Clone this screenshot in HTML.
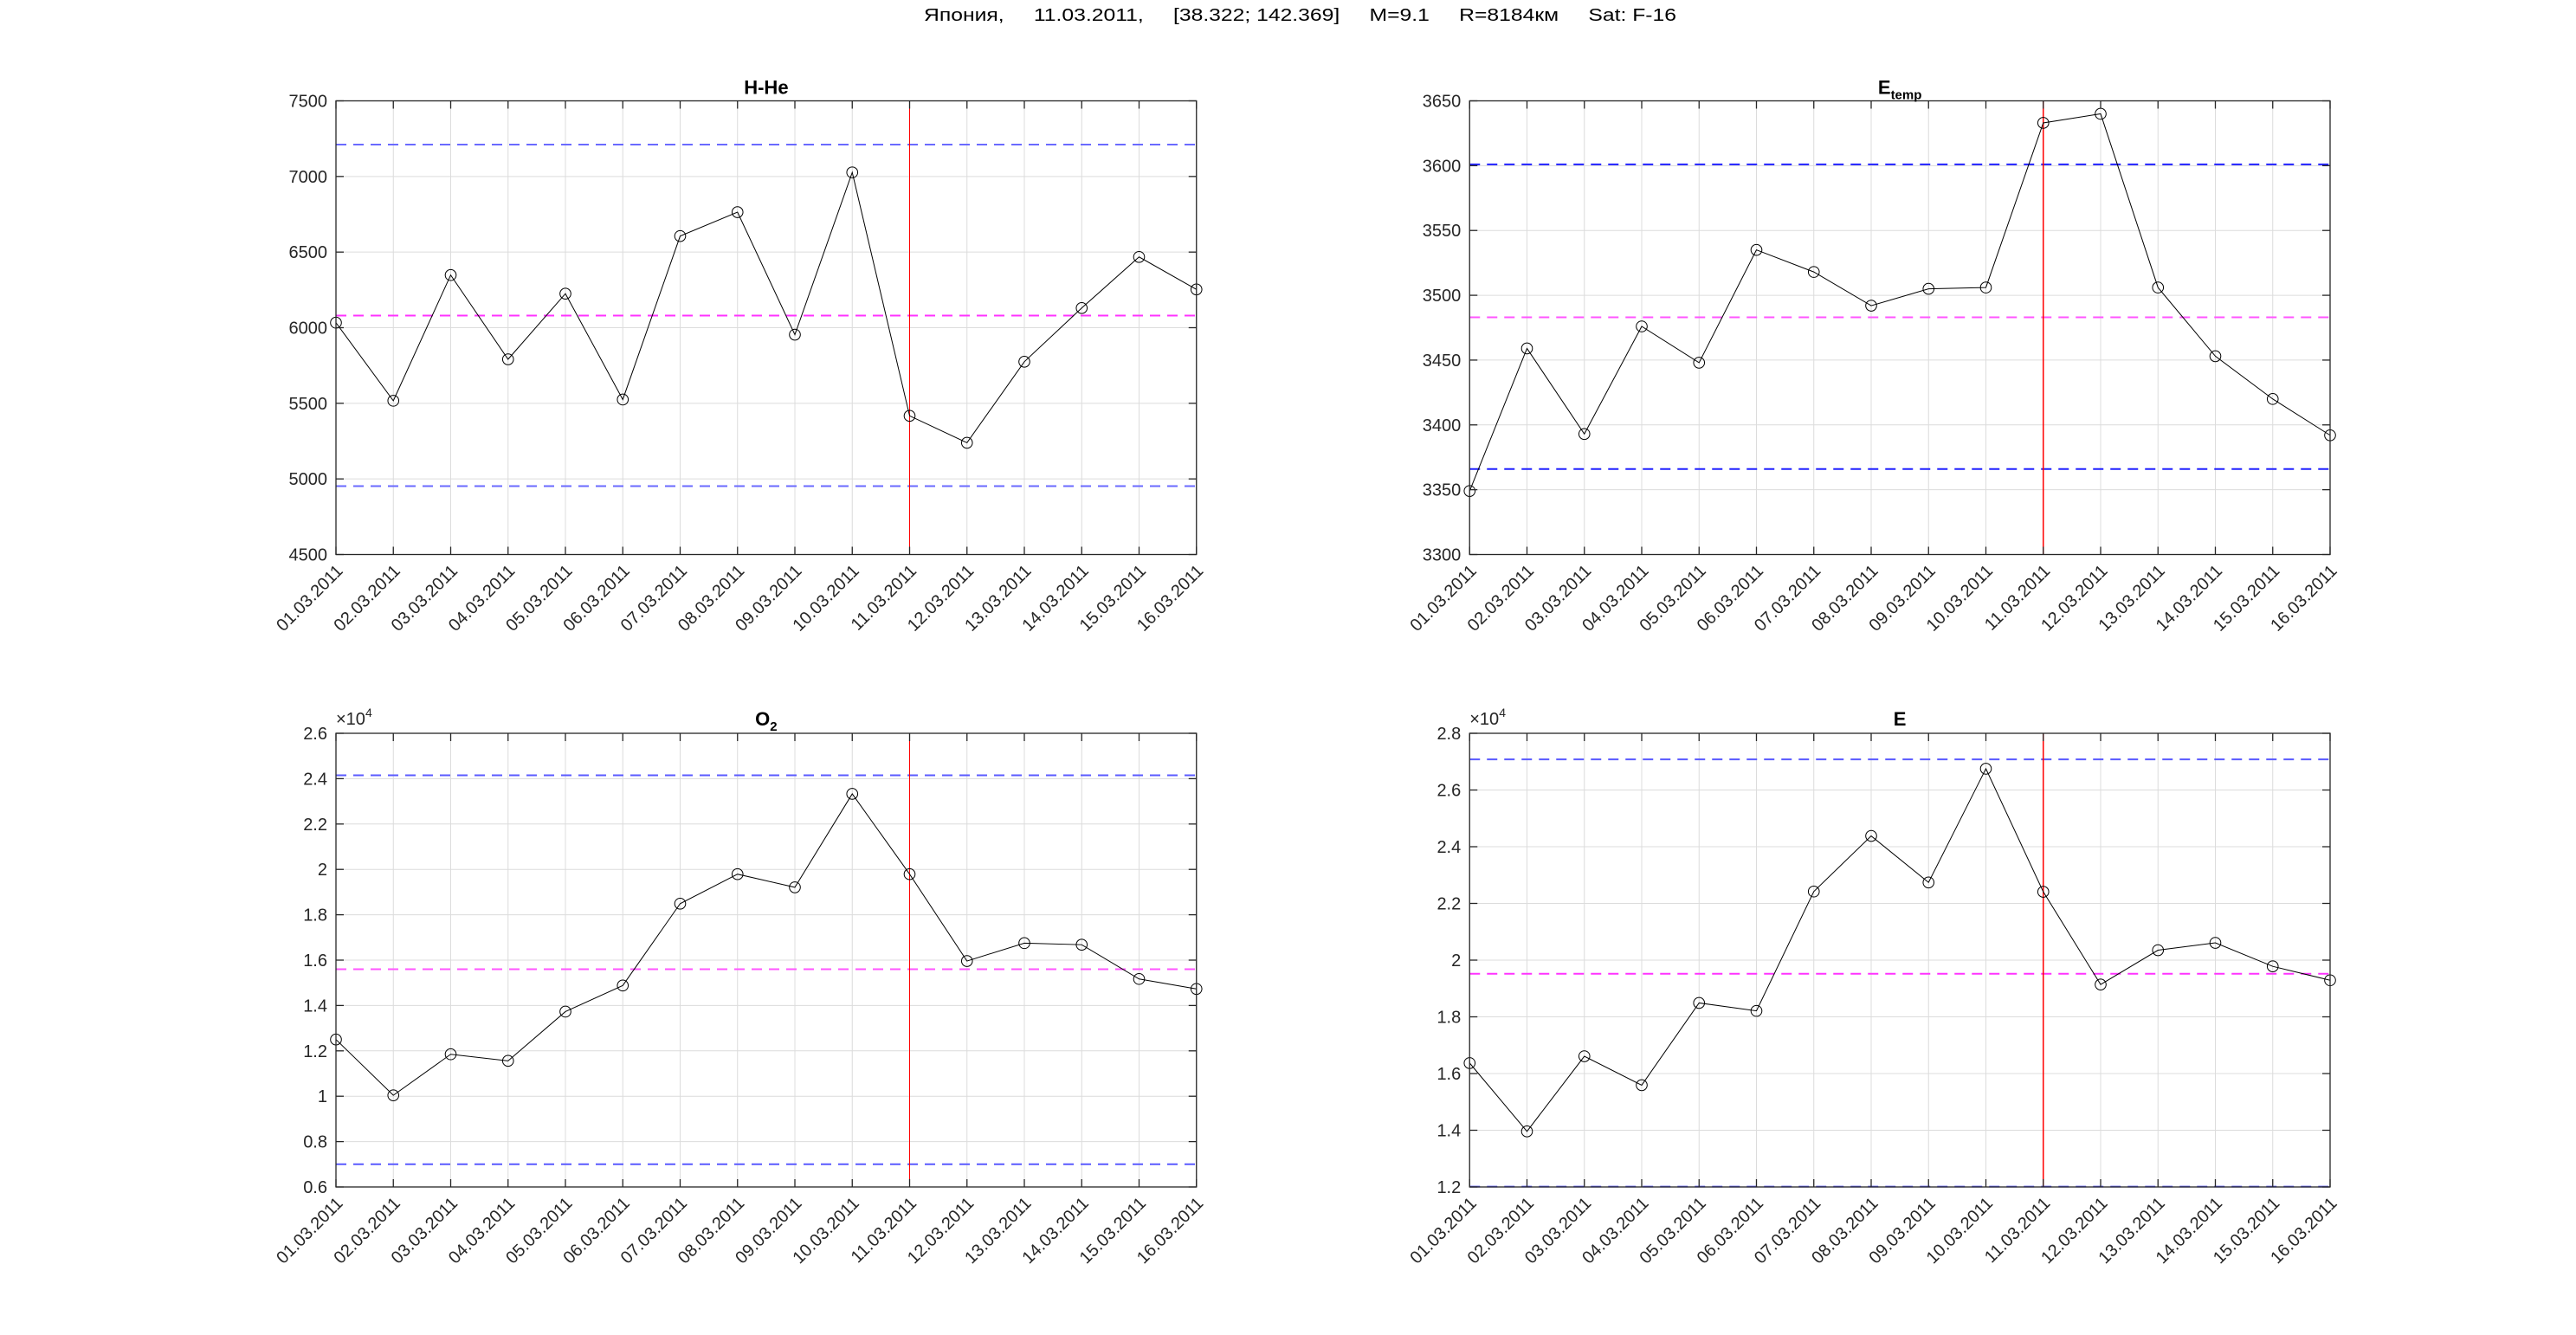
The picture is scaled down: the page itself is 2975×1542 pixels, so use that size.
<!DOCTYPE html>
<html><head><meta charset="utf-8">
<style>
html,body{margin:0;padding:0;background:#fff;}
svg{display:block;}
text{font-family:"Liberation Sans",Arial,sans-serif;fill:#262626;}
.t{font-size:20px;}
.tt{font-size:22px;font-weight:bold;fill:#000;}
</style></head>
<body>
<svg id="s" width="2975" height="1542" xmlns="http://www.w3.org/2000/svg">
<rect width="2975" height="1542" fill="#fff"/>
<text x="1067" y="24" style="font-size:20px;fill:#000;white-space:pre" xml:space="preserve" textLength="869" lengthAdjust="spacingAndGlyphs">Япония,     11.03.2011,     [38.322; 142.369]     M=9.1     R=8184км     Sat: F-16</text>

<g id="p1" transform="translate(388,116.5)">
<g class="geo"></g>
<text class="tt" x="496.9" y="-8" text-anchor="middle">H-He</text>
<g class="t" text-anchor="end">
<text x="-10" y="7">7500</text><text x="-10" y="94.3">7000</text><text x="-10" y="181.7">6500</text><text x="-10" y="269">6000</text><text x="-10" y="356.3">5500</text><text x="-10" y="443.7">5000</text><text x="-10" y="531">4500</text>
</g>
<g class="t dates" text-anchor="end"></g>
</g>

<g id="p2" transform="translate(1697.25,116.5)">
<g class="geo"></g>
<text class="tt" x="496.9" y="-8" text-anchor="middle">E<tspan dy="6" style="font-size:15px">temp</tspan></text>
<g class="t" text-anchor="end">
<text x="-10" y="7">3650</text><text x="-10" y="81.9">3600</text><text x="-10" y="156.7">3550</text><text x="-10" y="231.6">3500</text><text x="-10" y="306.4">3450</text><text x="-10" y="381.3">3400</text><text x="-10" y="456.1">3350</text><text x="-10" y="531">3300</text>
</g>
<g class="t dates" text-anchor="end"></g>
</g>

<g id="p3" transform="translate(388,847)">
<g class="geo"></g>
<text class="tt" x="496.9" y="-9" text-anchor="middle">O<tspan dy="6" style="font-size:15px">2</tspan></text>
<text x="0" y="-10" style="font-size:20px">×10<tspan dy="-9" style="font-size:14px">4</tspan></text>
<g class="t" text-anchor="end">
<text x="-10" y="7">2.6</text><text x="-10" y="59.4">2.4</text><text x="-10" y="111.8">2.2</text><text x="-10" y="164.2">2</text><text x="-10" y="216.6">1.8</text><text x="-10" y="269">1.6</text><text x="-10" y="321.4">1.4</text><text x="-10" y="373.8">1.2</text><text x="-10" y="426.2">1</text><text x="-10" y="478.6">0.8</text><text x="-10" y="531">0.6</text>
</g>
<g class="t dates" text-anchor="end"></g>
</g>

<g id="p4" transform="translate(1697.25,847)">
<g class="geo"></g>
<text class="tt" x="496.9" y="-9" text-anchor="middle">E</text>
<text x="0" y="-10" style="font-size:20px">×10<tspan dy="-9" style="font-size:14px">4</tspan></text>
<g class="t" text-anchor="end">
<text x="-10" y="7">2.8</text><text x="-10" y="72.5">2.6</text><text x="-10" y="138">2.4</text><text x="-10" y="203.5">2.2</text><text x="-10" y="269">2</text><text x="-10" y="334.5">1.8</text><text x="-10" y="400">1.6</text><text x="-10" y="465.5">1.4</text><text x="-10" y="531">1.2</text>
</g>
<g class="t dates" text-anchor="end"></g>
</g>

<g id="datesrc" style="display:none">
<text>01.03.2011</text><text>02.03.2011</text><text>03.03.2011</text><text>04.03.2011</text><text>05.03.2011</text><text>06.03.2011</text><text>07.03.2011</text><text>08.03.2011</text><text>09.03.2011</text><text>10.03.2011</text><text>11.03.2011</text><text>12.03.2011</text><text>13.03.2011</text><text>14.03.2011</text><text>15.03.2011</text><text>16.03.2011</text>
</g>
</svg>
<script>
(function(){
var NS="http://www.w3.org/2000/svg";
var W=993.75,H=524,dx=66.25;
function el(p,n,a){var e=document.createElementNS(NS,n);for(var k in a)e.setAttribute(k,a[k]);p.appendChild(e);return e;}
var cfg=[
{id:"p1",min:4500,max:7500,step:500,
 d:[6033,5517,6348,5791,6225,5525,6606,6764,5954,7027,5417,5239,5775,6130,6468,6253],
 hi:7211,mid:6080,lo:4952,blue:"#6a6aff",mag:"#ff33ff",red:1},
{id:"p2",min:3300,max:3650,step:50,
 d:[3349,3459,3393,3476,3448,3535,3518,3492,3505,3506,3633,3640,3506,3453,3420,3392],
 hi:3601,mid:3483,lo:3366,blue:"#2020ff",mag:"#ff55ff",red:1.5},
{id:"p3",min:0.6,max:2.6,step:0.2,
 d:[1.25,1.004,1.185,1.156,1.373,1.488,1.849,1.979,1.921,2.333,1.979,1.596,1.675,1.668,1.517,1.473],
 hi:2.415,mid:1.56,lo:0.70,blue:"#5a5aff",mag:"#ff55ff",red:1},
{id:"p4",min:1.2,max:2.8,step:0.2,
 d:[1.637,1.396,1.661,1.559,1.849,1.821,2.242,2.438,2.274,2.675,2.241,1.914,2.035,2.061,1.978,1.929],
 hi:2.708,mid:1.952,lo:1.201,blue:"#5a5aff",mag:"#ff33ff",red:1.5}
];
var src=document.querySelectorAll("#datesrc text");
cfg.forEach(function(c){
 var g=document.querySelector("#"+c.id+" .geo");
 var Y=function(v){return (c.max-v)/(c.max-c.min)*H;};
 var n=Math.round((c.max-c.min)/c.step);
 for(var i=0;i<16;i++){var x=i*dx;el(g,"line",{x1:x,y1:0,x2:x,y2:H,stroke:"#dcdcdc","stroke-width":1});}
 for(var j=0;j<=n;j++){var y=j*H/n;el(g,"line",{x1:0,y1:y,x2:W,y2:y,stroke:"#dcdcdc","stroke-width":1});}
 el(g,"line",{x1:0,y1:Y(c.hi),x2:W,y2:Y(c.hi),stroke:c.blue,"stroke-width":2,"stroke-dasharray":"12,8"});
 el(g,"line",{x1:0,y1:Y(c.mid),x2:W,y2:Y(c.mid),stroke:c.mag,"stroke-width":2,"stroke-dasharray":"12,8"});
 el(g,"line",{x1:0,y1:Y(c.lo),x2:W,y2:Y(c.lo),stroke:c.blue,"stroke-width":2,"stroke-dasharray":"12,8"});
 el(g,"line",{x1:10*dx,y1:0,x2:10*dx,y2:H,stroke:"#ff0000","stroke-width":c.red});
 var pts=c.d.map(function(v,i){return (i*dx)+","+Y(v);}).join(" ");
 el(g,"polyline",{points:pts,fill:"none",stroke:"#000","stroke-width":1});
 c.d.forEach(function(v,i){el(g,"circle",{cx:i*dx,cy:Y(v),r:6.3,fill:"none",stroke:"#000","stroke-width":1});});
 el(g,"rect",{x:0,y:0,width:W,height:H,fill:"none",stroke:"#262626","stroke-width":1.3});
 for(var i=0;i<16;i++){var x=i*dx;
  el(g,"line",{x1:x,y1:H,x2:x,y2:H-9,stroke:"#262626","stroke-width":1.3});
  el(g,"line",{x1:x,y1:0,x2:x,y2:9,stroke:"#262626","stroke-width":1.3});}
 for(var j=0;j<=n;j++){var y=j*H/n;
  el(g,"line",{x1:0,y1:y,x2:9,y2:y,stroke:"#262626","stroke-width":1.3});
  el(g,"line",{x1:W,y1:y,x2:W-9,y2:y,stroke:"#262626","stroke-width":1.3});}
 var dg=document.querySelector("#"+c.id+" .dates");
 for(var i=0;i<16;i++){
  var t=src[i].cloneNode(true);
  t.setAttribute("transform","translate("+(i*dx+9)+","+(H+20)+") rotate(-45)");
  dg.appendChild(t);
 }
});
})();
</script>
</body></html>
